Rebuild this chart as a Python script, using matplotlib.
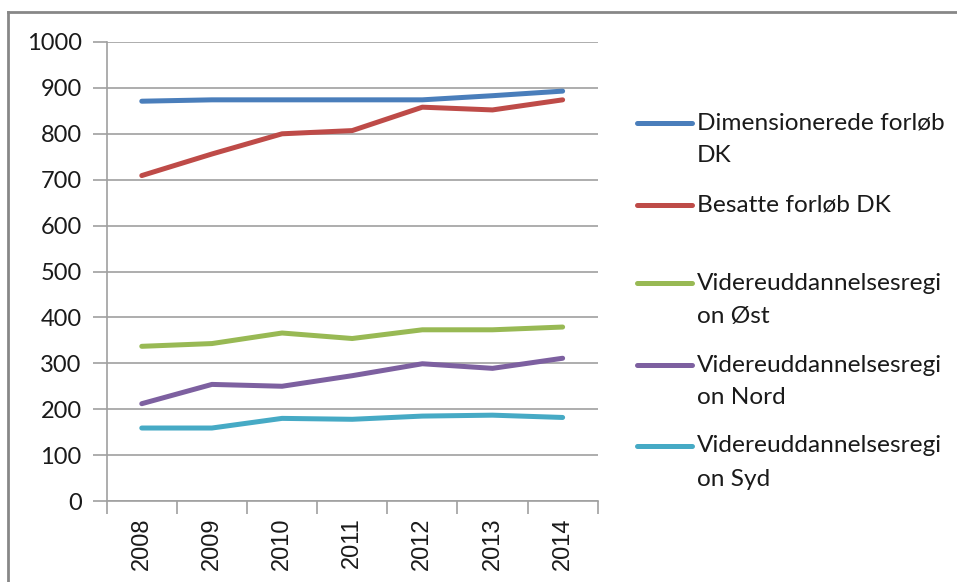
import matplotlib
matplotlib.use("Agg")
import matplotlib.pyplot as plt
from matplotlib.lines import Line2D

years = ["2008", "2009", "2010", "2011", "2012", "2013", "2014"]
dim_dk = [871, 874, 874, 874, 874, 883, 893]
bes_dk = [709, 756, 800, 807, 858, 852, 874]
vu_oest = [337, 343, 366, 354, 373, 373, 379]
vu_nord = [212, 254, 250, 273, 299, 289, 311]
vu_syd = [159, 159, 180, 178, 185, 187, 182]

series_labels = [
    ["Dimensionerede forløb", "DK"],
    ["Besatte forløb DK"],
    ["Videreuddannelsesregi", "on Øst"],
    ["Videreuddannelsesregi", "on Nord"],
    ["Videreuddannelsesregi", "on Syd"],
]
series_values = [dim_dk, bes_dk, vu_oest, vu_nord, vu_syd]
series_colors = ["#4A7EBB", "#BE4B48", "#98B954", "#7D60A0", "#46AAC5"]
y_ticks = [0, 100, 200, 300, 400, 500, 600, 700, 800, 900, 1000]

W, H = 957, 582
fig = plt.figure(figsize=(W / 100, H / 100), dpi=100)
ax = fig.add_axes([106.7 / W, 1 - 501 / H, (597.7 - 106.7) / W, (501 - 42) / H])

x = list(range(len(years)))
lines = []
for vals, col in zip(series_values, series_colors):
    ln, = ax.plot(x, vals, color=col, lw=3.6, solid_capstyle="round", solid_joinstyle="round", zorder=3)
    lines.append(ln)

ax.set_xlim(-0.5, len(years) - 0.5)
ax.set_ylim(0, 1000)
ax.set_yticks(y_ticks)
ax.set_yticklabels([str(v) for v in y_ticks], fontfamily="Lato", fontsize=17, color="#1a1a1a")
ax.set_xticks(x)
ax.set_xticklabels(years, rotation=90, fontfamily="Liberation Sans", fontsize=17, color="#1a1a1a")
ax.set_xticks([i - 0.5 for i in range(len(years) + 1)], minor=True)
ax.tick_params(axis="x", which="major", length=0, pad=12)
ax.tick_params(axis="x", which="minor", length=9, color="#a0a0a0", width=1.2, direction="out")
ax.tick_params(axis="y", length=10, color="#a0a0a0", width=1.2, pad=8)

ax.grid(axis="y", color="#a0a0a0", lw=1.2, zorder=0)
for s in ["top", "right"]:
    ax.spines[s].set_visible(False)
for s in ["left", "bottom"]:
    ax.spines[s].set_color("#a0a0a0")
    ax.spines[s].set_linewidth(1.2)

# legend drawn manually (Excel layout)
leg_y = [123, 205, 283, 365, 446]
for ln, labs, yp in zip(lines, series_labels, leg_y):
    fig.add_artist(Line2D([637 / W, 692 / W], [1 - yp / H, 1 - yp / H], color=ln.get_color(),
                          lw=3.6, solid_capstyle="round"))
    for k, t in enumerate(labs):
        fig.text(697 / W, 1 - (yp + 33 * k) / H, t, fontfamily="Lato", fontsize=17.6,
                 color="#1a1a1a", va="center", ha="left")

# outer chart border (top and left visible)
fig.add_artist(Line2D([8 / W, 1.0], [1 - 12 / H, 1 - 12 / H], color="#878787", lw=2))
fig.add_artist(Line2D([8 / W, 8 / W], [1 - 12 / H, 0], color="#878787", lw=2))

fig.savefig("out.png", dpi=100)
